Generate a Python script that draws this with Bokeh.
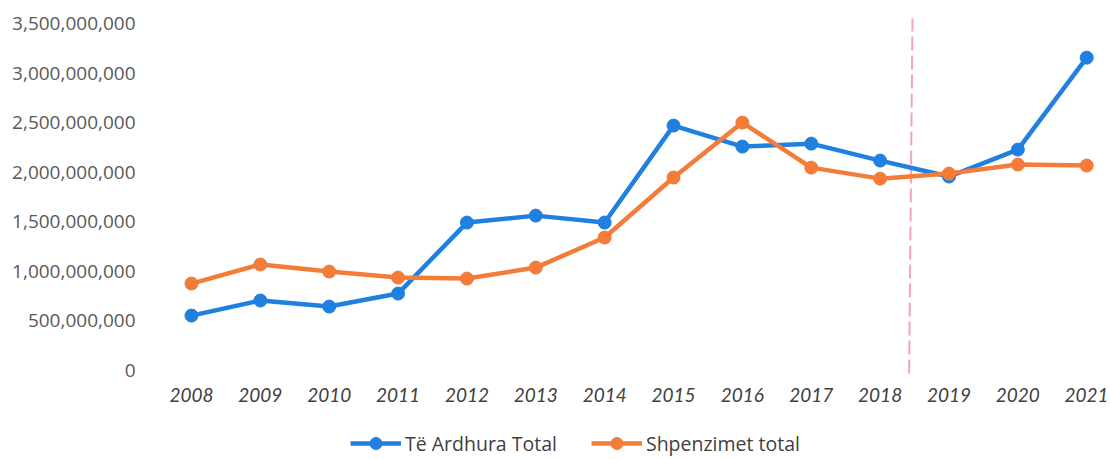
from bokeh.plotting import figure
from bokeh.layouts import column
from bokeh.models import (FixedTicker, NumeralTickFormatter, Range1d, Legend, LegendItem,
                          Segment, ColumnDataSource)
from bokeh.embed import file_html
from bokeh.resources import INLINE

years = [2008, 2009, 2010, 2011, 2012, 2013, 2014, 2015, 2016, 2017, 2018, 2019, 2020, 2021]
te_ardhura = [554e6, 706e6, 645e6, 776e6, 1492e6, 1562e6, 1492e6, 2470e6, 2258e6, 2288e6, 2117e6, 1956e6, 2228e6, 3155e6]
shpenzimet = [877e6, 1069e6, 998e6, 937e6, 927e6, 1038e6, 1341e6, 1946e6, 2500e6, 2046e6, 1935e6, 1986e6, 2077e6, 2067e6]
y_ticks = [0, 500e6, 1000e6, 1500e6, 2000e6, 2500e6, 3000e6, 3500e6]
series_names = ["Të Ardhura Total", "Shpenzimet total"]
divider_year = 2018.45

BLUE = "#1F80E0"
ORANGE = "#F37C38"

p = figure(width=1108, height=413, output_backend="svg", toolbar_location=None,
           x_range=Range1d(2007.405, 2021.2), y_range=Range1d(-80.6e6, 3.55e9),
           min_border_left=150, min_border_right=8, min_border_top=18, min_border_bottom=35)
p.outline_line_color = None
p.xgrid.visible = False
p.ygrid.visible = False

for ax in (p.xaxis[0], p.yaxis[0]):
    ax.axis_line_color = None
    ax.major_tick_line_color = None
    ax.minor_tick_line_color = None
    ax.major_tick_out = 0
    ax.major_tick_in = 0

p.yaxis.ticker = FixedTicker(ticks=y_ticks)
p.yaxis.formatter = NumeralTickFormatter(format="0,0")
p.yaxis.major_label_text_font = "Open Sans"
p.yaxis.major_label_text_font_size = "19px"
p.yaxis.major_label_text_color = "#595959"
p.yaxis.major_label_standoff = 15

p.xaxis.ticker = FixedTicker(ticks=years)
p.xaxis.major_label_text_font = "Lato"
p.xaxis.major_label_text_font_style = "italic"
p.xaxis.major_label_text_font_size = "19px"
p.xaxis.major_label_text_color = "#404040"
p.xaxis.major_label_standoff = 9

# dashed divider
src = ColumnDataSource(dict(x0=[divider_year + 0.02], y0=[3.56e9], x1=[divider_year - 0.03], y1=[-80e6]))
p.add_glyph(src, Segment(x0="x0", y0="y0", x1="x1", y1="y1", line_color="#F4A3B8", line_width=2, line_dash="14 5"))

p.line(years, te_ardhura, line_color=BLUE, line_width=4.5)
p.scatter(years, te_ardhura, size=13, fill_color=BLUE, line_color=BLUE)
p.line(years, shpenzimet, line_color=ORANGE, line_width=4.5)
p.scatter(years, shpenzimet, size=13, fill_color=ORANGE, line_color=ORANGE)

# legend strip below the chart (same series styles, data kept out of view)
lg = figure(width=1108, height=46, output_backend="svg", toolbar_location=None,
            x_range=Range1d(0, 1), y_range=Range1d(0, 1),
            x_axis_type=None, y_axis_type=None,
            min_border_left=0, min_border_right=0, min_border_top=0, min_border_bottom=0)
lg.outline_line_color = None
lg.xgrid.visible = False
lg.ygrid.visible = False
l1 = lg.line(years, te_ardhura, line_color=BLUE, line_width=4.5)
s1 = lg.scatter(years, te_ardhura, size=13, fill_color=BLUE, line_color=BLUE)
l2 = lg.line(years, shpenzimet, line_color=ORANGE, line_width=4.5)
s2 = lg.scatter(years, shpenzimet, size=13, fill_color=ORANGE, line_color=ORANGE)

legend = Legend(items=[LegendItem(label=series_names[0], renderers=[l1, s1]),
                       LegendItem(label=series_names[1], renderers=[l2, s2])],
                location=(200, 1), orientation="horizontal",
                glyph_width=51, glyph_height=30, label_height=30,
                label_standoff=4, spacing=34, padding=0, margin=0,
                label_text_font="Open Sans", label_text_font_size="19.5px",
                label_text_color="#404040",
                border_line_color=None, background_fill_alpha=0)
lg.add_layout(legend, "center")

layout = column(p, lg, spacing=0)
open("out.html", "w").write(file_html(layout, INLINE))
